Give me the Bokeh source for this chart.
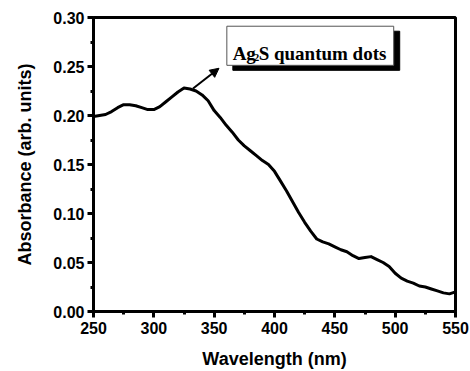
from bokeh.plotting import figure
from bokeh.models import (Label, BoxAnnotation, Arrow, NormalHead,
                          SingleIntervalTicker, PrintfTickFormatter, Range1d)
from bokeh.embed import file_html
from bokeh.resources import INLINE

# ---- data ----
wavelength = [250, 255, 260, 265, 270, 275, 280, 285, 290, 295, 300, 305, 310,
              315, 320, 325, 330, 335, 340, 345, 350, 355, 360, 365, 370, 375,
              380, 385, 390, 395, 400, 405, 410, 415, 420, 425, 430, 435, 440,
              445, 450, 455, 460, 465, 470, 475, 480, 485, 490, 495, 500, 505,
              510, 515, 520, 525, 530, 535, 540, 545, 550]
absorbance = [0.199, 0.200, 0.201, 0.204, 0.208, 0.211, 0.211, 0.210, 0.208,
              0.206, 0.206, 0.209, 0.214, 0.219, 0.224, 0.228, 0.227, 0.225,
              0.221, 0.215, 0.205, 0.198, 0.190, 0.183, 0.175, 0.169, 0.164,
              0.159, 0.154, 0.150, 0.143, 0.133, 0.123, 0.112, 0.101, 0.091,
              0.082, 0.074, 0.071, 0.069, 0.066, 0.063, 0.061, 0.057, 0.054,
              0.055, 0.056, 0.053, 0.050, 0.046, 0.039, 0.034, 0.031, 0.029,
              0.026, 0.025, 0.023, 0.021, 0.019, 0.018, 0.020]
x_label = "Wavelength (nm)"
y_label = "Absorbance (arb. units)"
note_parts = ["Ag", "2", "S quantum dots"]

FONT = "Liberation Sans"

p = figure(frame_width=362, frame_height=294,
           min_border_left=93, min_border_right=15,
           min_border_top=17, min_border_bottom=60,
           x_range=Range1d(250, 550), y_range=Range1d(0, 0.30000001),
           output_backend="svg", toolbar_location=None,
           background_fill_color="white", border_fill_color="white")

p.xgrid.visible = False
p.ygrid.visible = False
p.outline_line_color = "black"
p.outline_line_width = 3

p.xaxis.ticker = SingleIntervalTicker(interval=50, num_minor_ticks=2)
p.yaxis.ticker = SingleIntervalTicker(interval=0.05, num_minor_ticks=2)
p.yaxis.formatter = PrintfTickFormatter(format="%.2f")

for ax in (p.xaxis, p.yaxis):
    ax.axis_line_width = 3
    ax.axis_line_color = "black"
    ax.major_tick_line_width = 3
    ax.minor_tick_line_width = 3
    ax.major_tick_in = 0
    ax.major_tick_out = 6
    ax.minor_tick_in = 0
    ax.minor_tick_out = 3
    ax.major_label_text_font = FONT
    ax.major_label_text_font_style = "bold"
    ax.major_label_text_font_size = "16px"
    ax.major_label_text_color = "black"
    ax.axis_label_text_font = FONT
    ax.axis_label_text_font_style = "bold"
    ax.axis_label_text_font_size = "18px"
    ax.axis_label_text_color = "black"
    ax.major_label_standoff = 3

p.xaxis.major_label_standoff = 4
p.xaxis.axis_label = x_label
p.yaxis.axis_label = y_label
p.xaxis.axis_label_standoff = 12
p.yaxis.axis_label_standoff = 15

p.line(wavelength, absorbance, line_color="black", line_width=3,
       line_join="round")

# annotation box with drop shadow
box_l, box_r, box_t, box_b = 360.5, 498.8, 0.2911, 0.2512
dx, dy = 6 / 1.207, 5 / 980.0
p.add_layout(BoxAnnotation(left=box_l + dx, right=box_r + dx,
                           top=box_t - dy, bottom=box_b - dy,
                           fill_color="black", fill_alpha=1.0,
                           line_color="black", line_alpha=1.0))
p.add_layout(BoxAnnotation(left=box_l, right=box_r, top=box_t, bottom=box_b,
                           fill_color="white", fill_alpha=1.0,
                           line_color="#555555", line_width=1, line_alpha=1.0))

tx, ty = 365.3, 0.2628
p.add_layout(Label(x=tx, y=ty, text=note_parts[0], text_font="Liberation Serif",
                   text_font_style="bold", text_font_size="19px",
                   text_baseline="alphabetic", text_color="black"))
p.add_layout(Label(x=tx, y=ty, x_offset=21, y_offset=-4, text=note_parts[1],
                   text_font="Liberation Serif", text_font_style="bold",
                   text_font_size="11px", text_baseline="alphabetic",
                   text_color="black"))
p.add_layout(Label(x=tx, y=ty, x_offset=26, text=note_parts[2],
                   text_font="Liberation Serif", text_font_style="bold",
                   text_font_size="19px", text_baseline="alphabetic",
                   text_color="black"))

p.add_layout(Arrow(x_start=332.5, y_start=0.2275, x_end=354.0, y_end=0.2482,
                   line_width=2, line_color="black",
                   end=NormalHead(size=9, fill_color="black", line_color="black")))

open("out.html", "w").write(file_html(p, INLINE))
